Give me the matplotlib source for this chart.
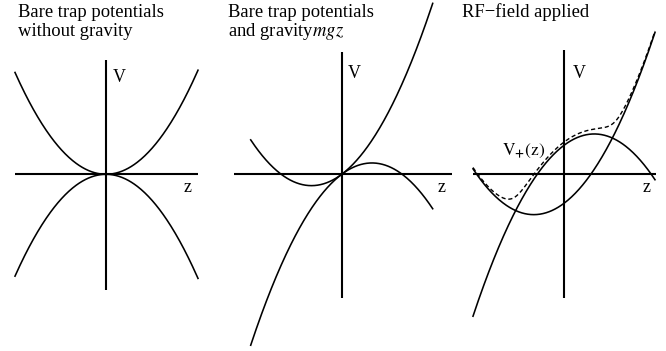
import numpy as np
import matplotlib.pyplot as plt

plt.rcParams['font.family'] = ['Liberation Serif', 'DejaVu Serif']
plt.rcParams['mathtext.fontset'] = 'stix'

# Parâmetros do esquema (unidades em pixels)
curvature = [0.0123, 0.0124, 0.0124]     # a em ±a z^2
gravity = [0.0, 0.75, 0.75]              # inclinação de mgz
rf_shift = 29.0                          # deslocamento vertical com RF
rf_coupling = 14.0                       # meia separação nos cruzamentos
curve_z = [(-91, 92), (-91, 91), (-91, 91)]

titles = [["Bare trap potentials", "without gravity"],
          ["Bare trap potentials", "and gravity$mgz$"],
          ["RF\u2212field applied"]]

# Layout em pixels da figura
W, H = 666, 351
spans = [(0, 222), (222, 455), (455, 666)]
origins = [(106, 174.3), (341.7, 174.3), (564, 174.3)]
z_axis = [(-91, 92), (-108, 110), (-91, 92)]
v_axis = [(-116, 114), (-124, 122), (-124, 124)]
v_label = [(7, 92.3), (6.3, 96.3), (9, 96.3)]
z_label = [(78, -17.7), (96.3, -17.7), (79, -17.7)]
title_x = [18, 228.3, 461.7]
title_base = [17.3, 36.5]

fig = plt.figure(figsize=(W / 100, H / 100), dpi=100)

axes = []
for i in range(3):
    x0, x1 = spans[i]
    ox, oy = origins[i]
    ax = fig.add_axes([x0 / W, 0, (x1 - x0) / W, 1])
    ax.set_xlim(x0 - ox, x1 - ox)
    ax.set_ylim(oy - H, oy)
    ax.axis('off')
    ax.plot(z_axis[i], [0, 0], color='black', lw=1.5, solid_capstyle='butt')
    ax.plot([0, 0], v_axis[i], color='black', lw=1.5, solid_capstyle='butt')
    ax.text(v_label[i][0], v_label[i][1], 'V', fontsize=13, va='baseline')
    ax.text(z_label[i][0], z_label[i][1], 'z', fontsize=13, va='baseline')
    for k, line in enumerate(titles[i]):
        fig.text(title_x[i] / W, 1 - title_base[k] / H, line, fontsize=13.4,
                 va='baseline', ha='left')
    axes.append(ax)

# Painel 1: sem gravidade
a, g = curvature[0], gravity[0]
z = np.linspace(*curve_z[0], 300)
axes[0].plot(z, a * z**2, color='black', lw=1.15)
axes[0].plot(z, -a * z**2, color='black', lw=1.15)

# Painel 2: com gravidade mgz
a, g = curvature[1], gravity[1]
z = np.linspace(*curve_z[1], 300)
axes[1].plot(z, a * z * np.abs(z) + g * z, color='black', lw=1.15)
axes[1].plot(z, -a * z * np.abs(z) + g * z, color='black', lw=1.15)

# Painel 3: campo RF aplicado
a, g = curvature[2], gravity[2]
z = np.linspace(*curve_z[2], 300)
lower = a * z**2 + g * z - rf_shift
upper = -a * z**2 + g * z + rf_shift
dressed = g * z + np.sqrt((a * z**2 - rf_shift)**2 + rf_coupling**2)
axes[2].plot(z, lower, color='black', lw=1.15)
axes[2].plot(z, upper, color='black', lw=1.15)
axes[2].plot(z, dressed, color='black', lw=1.0, dashes=(3, 2))
axes[2].text(-62.3, 19.3, r'$\mathrm{V}_{\mathbf{+}}\mathrm{(z)}$', fontsize=12.5,
             va='baseline')

fig.savefig('out.png', dpi=100)
